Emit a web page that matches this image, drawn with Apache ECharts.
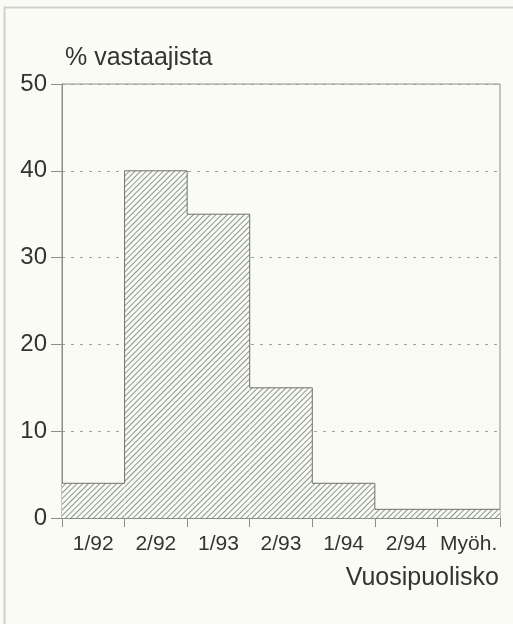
<!DOCTYPE html>
<html>
<head>
<meta charset="utf-8">
<script src="https://cdn.jsdelivr.net/npm/echarts@6/dist/echarts.min.js"></script>
<style>
  html, body { margin: 0; padding: 0; background: #fbfbf6; }
  #main { width: 513px; height: 624px; }
</style>
</head>
<body>
<div id="main"></div>
<script>
// vuosipuolisko -> % vastaajista
var categories = ['1/92', '2/92', '1/93', '2/93', '1/94', '2/94', 'Myöh.']
var shares = [4, 40, 35, 15, 4, 1, 1]
var yTicks = [0, 10, 20, 30, 40, 50]

// outline of the histogram on a hidden 0..7 value axis
var outline = shares.map(function (v, i) { return [i, v] })
outline.push([shares.length, shares[shares.length - 1]])

var fontFamily = '"Liberation Sans", Arial, sans-serif'
var ink = '#333'
var axisGrey = '#8c8c8c'

var chart = echarts.init(document.getElementById('main'))
chart.setOption({
  backgroundColor: '#fbfbf6',
  animation: false,
  textStyle: { fontFamily: fontFamily },
  title: {
    text: '% vastaajista',
    left: 65,
    top: 46,
    padding: 0,
    textStyle: { fontSize: 25, fontWeight: 'normal', color: ink, fontFamily: fontFamily }
  },
  graphic: [
    {
      type: 'polyline',
      shape: { points: [[4.5, 624], [4.5, 7.5], [513, 7.5]] },
      style: { stroke: '#cfcfcf', lineWidth: 2, fill: null },
      silent: true
    },
    {
      type: 'text',
      right: 14,
      top: 566,
      style: { text: 'Vuosipuolisko', fontSize: 25, fill: ink, fontFamily: fontFamily }
    }
  ],
  grid: {
    left: 62, right: 13, top: 84, bottom: 106,
    show: true, borderColor: axisGrey, borderWidth: 1, backgroundColor: 'transparent'
  },
  xAxis: [
    {
      type: 'category',
      data: categories,
      boundaryGap: true,
      axisLine: { lineStyle: { color: axisGrey } },
      axisTick: { show: true, length: 9, interval: 0, lineStyle: { color: axisGrey } },
      axisLabel: { color: ink, fontSize: 21, margin: 16, interval: 0 }
    },
    {
      type: 'value',
      min: 0,
      max: categories.length,
      show: false
    }
  ],
  yAxis: {
    type: 'value',
    min: yTicks[0],
    max: yTicks[yTicks.length - 1],
    interval: 10,
    axisLine: { show: true, lineStyle: { color: axisGrey } },
    axisTick: { show: true, length: 11, lineStyle: { color: axisGrey } },
    axisLabel: { color: ink, fontSize: 24, margin: 15 },
    splitLine: {
      show: true,
      lineStyle: { color: '#a0a0a0', type: [3, 6], width: 1 }
    }
  },
  series: [
    {
      type: 'bar',
      data: shares,
      barWidth: '100%',
      barCategoryGap: 0,
      itemStyle: {
        color: '#fbfbf6',
        decal: {
          symbol: 'rect',
          symbolSize: 1,
          color: '#8a978b',
          dashArrayX: [1, 0],
          dashArrayY: [1, 2.5],
          rotation: -Math.PI / 4
        }
      }
    },
    {
      type: 'line',
      xAxisIndex: 1,
      data: outline,
      step: 'end',
      symbol: 'none',
      lineStyle: { color: '#6f6f6f', width: 1 },
      silent: true
    }
  ]
})
</script>
</body>
</html>
